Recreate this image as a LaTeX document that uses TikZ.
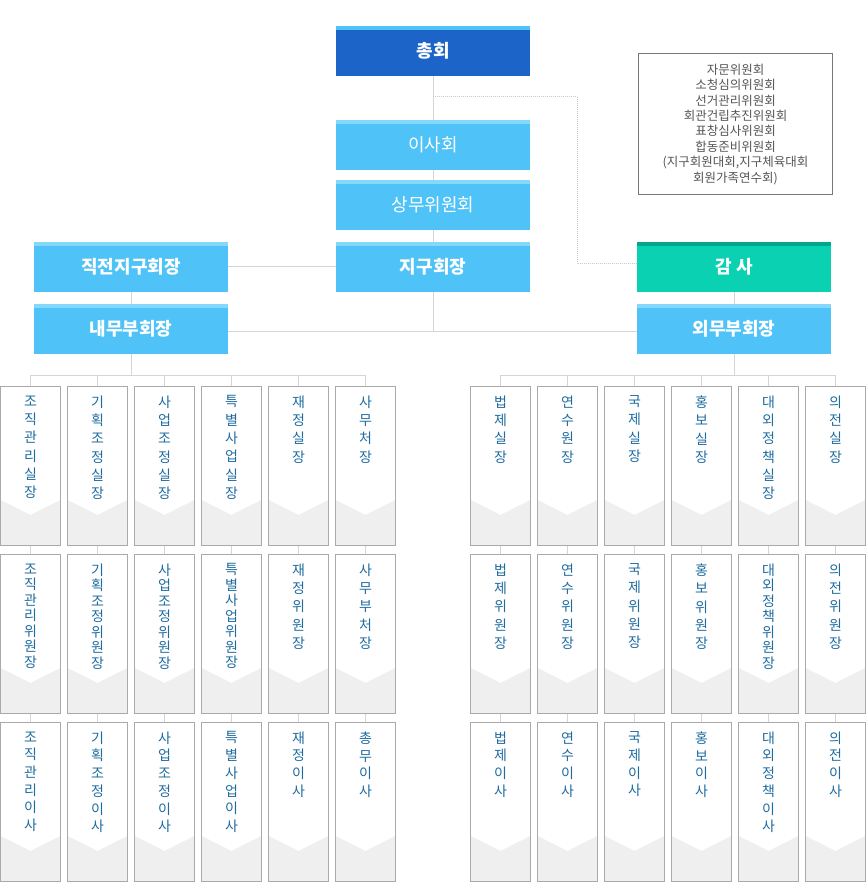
\documentclass[tikz,border=0pt]{standalone}
\usepackage{fontspec}
\newfontfamily\kr{Noto Sans CJK KR}
\definecolor{darkblue}{HTML}{1C64C8}
\definecolor{lightblue}{HTML}{4FC3F7}
\definecolor{stripeblue}{HTML}{84D8FC}
\definecolor{grn}{HTML}{0AD1B2}
\definecolor{darkgrn}{HTML}{00A78B}
\definecolor{linegray}{HTML}{D5D5D5}
\definecolor{bordergray}{HTML}{AAAAAA}
\definecolor{chevgray}{HTML}{EFEFEF}
\definecolor{txtblue}{HTML}{1F6CA0}
\definecolor{notegray}{HTML}{555555}
\definecolor{notebord}{HTML}{777777}
\definecolor{dotgray}{HTML}{C8C8C8}
\newcommand\cbox[5]{%
  \node[colbox] (#1) at (#2,#3) {};
  \node[coltext, font=\kr\fontsize{14}{#5}\selectfont] (#1t) at ([yshift=-10pt]#1.north) {#4};}
\begin{document}
\begin{tikzpicture}[x=1pt,y=-1pt,
  hbox/.style={minimum width=194pt, minimum height=50pt, inner sep=0pt, text=white,
    font=\kr\fontsize{18}{20}\selectfont,
    path picture={\fill[#1] (path picture bounding box.north west) rectangle ([yshift=-4pt]path picture bounding box.north east);}},
  bluebox/.style={hbox=stripeblue, fill=lightblue},
  darkbox/.style={hbox=lightblue, fill=darkblue},
  grnbox/.style={hbox=darkgrn, fill=grn},
  colbox/.style={draw=bordergray, line width=1pt, fill=white, minimum width=59.5pt, minimum height=159pt, inner sep=0pt,
    path picture={\fill[chevgray] ([yshift=-114pt]path picture bounding box.north west) -- ([yshift=-129pt]path picture bounding box.north) -- ([yshift=-114pt]path picture bounding box.north east) -- (path picture bounding box.south east) -- (path picture bounding box.south west) -- cycle;}},
  coltext/.style={anchor=north, inner sep=0pt, align=center, text=txtblue},
  conn/.style={draw=linegray, line width=1pt},
  dotconn/.style={draw=dotgray, line width=1pt, dash pattern=on 1pt off 1pt},
  note/.style={draw=notebord, line width=1pt, minimum width=193.5pt, minimum height=141pt, inner sep=0pt, align=center, text=notegray, font=\kr\fontsize{12.5}{15.4}\selectfont}
]
\useasboundingbox (0,0) rectangle (866,882);

% top column
\node[darkbox, font=\kr\bfseries\fontsize{18}{20}\selectfont] (chong) at (433,51) {총회};
\node[bluebox] (isa) at (433,145) {이사회};
\node[bluebox] (sangmu) at (433,205) {상무위원회};
\node[bluebox, font=\kr\bfseries\fontsize{18}{20}\selectfont] (jigu) at (433,267) {지구회장};
\node[bluebox, font=\kr\bfseries\fontsize{18}{20}\selectfont] (jikjeon) at (131,267) {직전지구회장};
\node[bluebox, font=\kr\bfseries\fontsize{18}{20}\selectfont] (naemu) at (131,329) {내무부회장};
\node[grnbox, font=\kr\bfseries\fontsize{18}{20}\selectfont] (gamsa) at (734,267) {감 사};
\node[bluebox, font=\kr\bfseries\fontsize{18}{20}\selectfont] (oemu) at (734,329) {외무부회장};

\node[note] (wiwon) at (735.5,124.2) {자문위원회\\소청심의위원회\\선거관리위원회\\회관건립추진위원회\\표창심사위원회\\합동준비위원회\\(지구회원대회,지구체육대회\\회원가족연수회)};

% connectors among top boxes
\coordinate (d1) at (433,97);
\coordinate (d2) at (577,97);
\coordinate (d3) at (577,264);
\coordinate (j331) at (433,331);
\coordinate (lbus) at (131,375);
\coordinate (rbus) at (734,375);
\path[conn] (chong) -- (isa);
\path[conn] (isa) -- (sangmu);
\path[conn] (sangmu) -- (jigu);
\path[conn] (jigu) -- (j331);
\path[conn] (jikjeon) -- (jigu);
\path[conn] (jikjeon) -- (naemu);
\path[conn] (gamsa) -- (oemu);
\path[conn] (naemu.east |- j331) -- (oemu.west |- j331);
\path[dotconn] (d1) -- (d2) -- (d3) -- (gamsa.west |- d3);
\path[conn] (naemu) -- (lbus);
\path[conn] (oemu) -- (rbus);

% left columns
\cbox{a1}{30.5}{465.5}{조\\직\\관\\리\\실\\장}{18.3}
\cbox{a2}{97.5}{465.5}{기\\획\\조\\정\\실\\장}{18.3}
\cbox{a3}{164.5}{465.5}{사\\업\\조\\정\\실\\장}{18.3}
\cbox{a4}{231.5}{465.5}{특\\별\\사\\업\\실\\장}{18.3}
\cbox{a5}{298.5}{465.5}{재\\정\\실\\장}{18.3}
\cbox{a6}{365.5}{465.5}{사\\무\\처\\장}{18.3}

\cbox{b1}{30.5}{633.5}{조\\직\\관\\리\\위\\원\\장}{15.5}
\cbox{b2}{97.5}{633.5}{기\\획\\조\\정\\위\\원\\장}{15.5}
\cbox{b3}{164.5}{633.5}{사\\업\\조\\정\\위\\원\\장}{15.5}
\cbox{b4}{231.5}{633.5}{특\\별\\사\\업\\위\\원\\장}{15.5}
\cbox{b5}{298.5}{633.5}{재\\정\\위\\원\\장}{18.3}
\cbox{b6}{365.5}{633.5}{사\\무\\부\\처\\장}{18.3}

\cbox{c1}{30.5}{801.5}{조\\직\\관\\리\\이\\사}{17.7}
\cbox{c2}{97.5}{801.5}{기\\획\\조\\정\\이\\사}{17.7}
\cbox{c3}{164.5}{801.5}{사\\업\\조\\정\\이\\사}{17.7}
\cbox{c4}{231.5}{801.5}{특\\별\\사\\업\\이\\사}{17.7}
\cbox{c5}{298.5}{801.5}{재\\정\\이\\사}{17.7}
\cbox{c6}{365.5}{801.5}{총\\무\\이\\사}{17.7}

% right columns
\cbox{d1b}{500.5}{465.5}{법\\제\\실\\장}{18.3}
\cbox{d2b}{567.5}{465.5}{연\\수\\원\\장}{18.3}
\cbox{d3b}{634.5}{465.5}{국\\제\\실\\장}{18.3}
\cbox{d4b}{701.5}{465.5}{홍\\보\\실\\장}{18.3}
\cbox{d5b}{768.5}{465.5}{대\\외\\정\\책\\실\\장}{18.3}
\cbox{d6b}{835.5}{465.5}{의\\전\\실\\장}{18.3}

\cbox{e1}{500.5}{633.5}{법\\제\\위\\원\\장}{18.3}
\cbox{e2}{567.5}{633.5}{연\\수\\위\\원\\장}{18.3}
\cbox{e3}{634.5}{633.5}{국\\제\\위\\원\\장}{18.3}
\cbox{e4}{701.5}{633.5}{홍\\보\\위\\원\\장}{18.3}
\cbox{e5}{768.5}{633.5}{대\\외\\정\\책\\위\\원\\장}{15.5}
\cbox{e6}{835.5}{633.5}{의\\전\\위\\원\\장}{18.3}

\cbox{f1}{500.5}{801.5}{법\\제\\이\\사}{17.7}
\cbox{f2}{567.5}{801.5}{연\\수\\이\\사}{17.7}
\cbox{f3}{634.5}{801.5}{국\\제\\이\\사}{17.7}
\cbox{f4}{701.5}{801.5}{홍\\보\\이\\사}{17.7}
\cbox{f5}{768.5}{801.5}{대\\외\\정\\책\\이\\사}{17.7}
\cbox{f6}{835.5}{801.5}{의\\전\\이\\사}{17.7}

% buses
\path[conn] (a1.north |- lbus) -- (a6.north |- lbus);
\path[conn] (d1b.north |- rbus) -- (d6b.north |- rbus);
\foreach \n in {a1,a2,a3,a4,a5,a6} { \path[conn] (\n.north |- lbus) -- (\n.north); }
\foreach \n in {d1b,d2b,d3b,d4b,d5b,d6b} { \path[conn] (\n.north |- rbus) -- (\n.north); }
\foreach \u/\v in {a1/b1,a2/b2,a3/b3,a4/b4,a5/b5,a6/b6,b1/c1,b2/c2,b3/c3,b4/c4,b5/c5,b6/c6,
  d1b/e1,d2b/e2,d3b/e3,d4b/e4,d5b/e5,d6b/e6,e1/f1,e2/f2,e3/f3,e4/f4,e5/f5,e6/f6}
  { \path[conn] (\u.south) -- (\v.north); }
\end{tikzpicture}
\end{document}
